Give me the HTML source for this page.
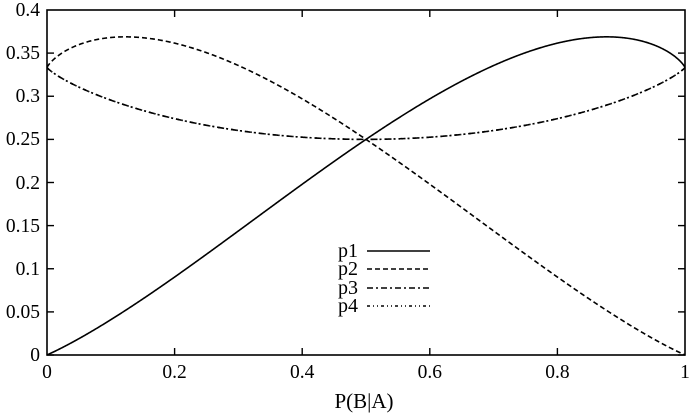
<!DOCTYPE html>
<html><head><meta charset="utf-8"><style>
html,body{margin:0;padding:0;background:#fff;}
svg{display:block;}
text{font-family:"Liberation Serif",serif;fill:#000;}
</style></head><body>
<svg id="s" width="692" height="413" viewBox="0 0 692 413" xmlns="http://www.w3.org/2000/svg">
<rect x="0" y="0" width="692" height="413" fill="#fff"/>
<g stroke="#000" stroke-width="1.4">
<line x1="47" y1="355" x2="54" y2="355"/><line x1="685" y1="355" x2="678" y2="355"/>
<line x1="47" y1="311.9" x2="54" y2="311.9"/><line x1="685" y1="311.9" x2="678" y2="311.9"/>
<line x1="47" y1="268.75" x2="54" y2="268.75"/><line x1="685" y1="268.75" x2="678" y2="268.75"/>
<line x1="47" y1="225.6" x2="54" y2="225.6"/><line x1="685" y1="225.6" x2="678" y2="225.6"/>
<line x1="47" y1="182.5" x2="54" y2="182.5"/><line x1="685" y1="182.5" x2="678" y2="182.5"/>
<line x1="47" y1="139.4" x2="54" y2="139.4"/><line x1="685" y1="139.4" x2="678" y2="139.4"/>
<line x1="47" y1="96.25" x2="54" y2="96.25"/><line x1="685" y1="96.25" x2="678" y2="96.25"/>
<line x1="47" y1="53.1" x2="54" y2="53.1"/><line x1="685" y1="53.1" x2="678" y2="53.1"/>
<line x1="174.6" y1="355" x2="174.6" y2="348"/><line x1="174.6" y1="10" x2="174.6" y2="17"/>
<line x1="302.2" y1="355" x2="302.2" y2="348"/><line x1="302.2" y1="10" x2="302.2" y2="17"/>
<line x1="429.8" y1="355" x2="429.8" y2="348"/><line x1="429.8" y1="10" x2="429.8" y2="17"/>
<line x1="557.4" y1="355" x2="557.4" y2="348"/><line x1="557.4" y1="10" x2="557.4" y2="17"/>
</g>
<g font-size="19.5" text-anchor="end">
<text x="40" y="361">0</text>
<text x="40" y="318">0.05</text>
<text x="40" y="275">0.1</text>
<text x="40" y="232">0.15</text>
<text x="40" y="189">0.2</text>
<text x="40" y="145">0.25</text>
<text x="40" y="102">0.3</text>
<text x="40" y="59">0.35</text>
<text x="40" y="16">0.4</text>
</g>
<g font-size="19.5" text-anchor="middle">
<text x="47" y="378">0</text>
<text x="174.6" y="378">0.2</text>
<text x="302.2" y="378">0.4</text>
<text x="429.8" y="378">0.6</text>
<text x="557.4" y="378">0.8</text>
<text x="685" y="378">1</text>
</g>
<text x="364" y="408" font-size="21" text-anchor="middle">P(B|A)</text>
<g font-size="20" text-anchor="end">
<text x="358" y="257">p1</text>
<text x="358" y="275">p2</text>
<text x="358" y="294">p3</text>
<text x="358" y="312">p4</text>
</g>
<g stroke="#000" stroke-width="1.6" fill="none">
<line x1="367" y1="251" x2="430" y2="251"/>
<line x1="367" y1="269" x2="430" y2="269" stroke-dasharray="5,3"/>
<line x1="367" y1="288" x2="430" y2="288" stroke-dasharray="6,3,2,3"/>
<line x1="367" y1="306" x2="430" y2="306" stroke-dasharray="3,3,1,3,1,3"/>
<path id="p1" d=""/>
<path id="p2" d="" stroke-dasharray="5,3"/>
<path id="p3" d="" stroke-dasharray="6,3,2,3"/>
<path id="p4" d="" stroke-dasharray="3,3,1,3,1,3"/>
</g>
<rect x="47" y="10" width="638" height="345" fill="none" stroke="#000" stroke-width="1.6"/>
</svg>
<script>
(function(){
function X(x){return 47+638*x;}
function Y(v){return 355-862.5*v;}
var d1=[],d2=[],d3=[];
var N=800;
for(var i=0;i<=N;i++){
  var x=i/N;
  var p1,p2,p3;
  if(i===0){p1=0;p2=1/3;p3=1/3;}
  else if(i===N){p1=1/3;p2=0;p3=1/3;}
  else{
    var r=x/(1-x);
    var a=Math.pow(r,1-x), b=Math.pow(1/r,x);
    var Z=2+a+b;
    p1=a/Z;p2=b/Z;p3=1/Z;
  }
  var c=(i===0?'M':'L');
  d1.push(c+X(x).toFixed(2)+' '+Y(p1).toFixed(2));
  d2.push(c+X(x).toFixed(2)+' '+Y(p2).toFixed(2));
  d3.push(c+X(x).toFixed(2)+' '+Y(p3).toFixed(2));
}
document.getElementById('p1').setAttribute('d',d1.join(''));
document.getElementById('p2').setAttribute('d',d2.join(''));
document.getElementById('p3').setAttribute('d',d3.join(''));
document.getElementById('p4').setAttribute('d',d3.join(''));
})();
</script>
</body></html>
